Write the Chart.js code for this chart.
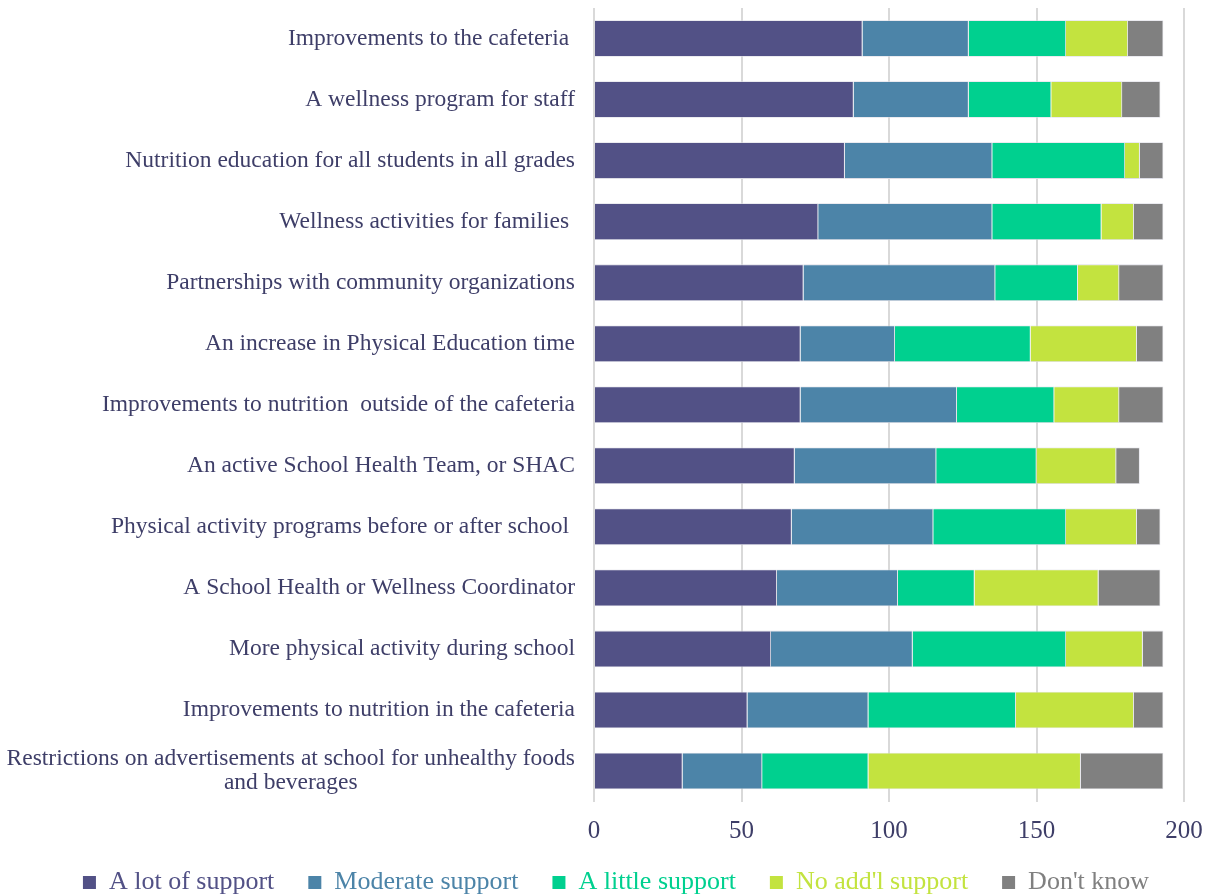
<!DOCTYPE html>
<html>
<head>
<meta charset="utf-8">
<script src="https://cdn.jsdelivr.net/npm/chart.js@4/dist/chart.umd.min.js"></script>
<style>
  html, body { margin: 0; padding: 0; background: #fff; }
  #wrap { width: 1212px; height: 894px; }
</style>
</head>
<body>
<div id="wrap"><canvas id="support-chart"></canvas></div>
<script>
var categories = [
    "Improvements to the cafeteria ",
    "A wellness program for staff",
    "Nutrition education for all students in all grades",
    "Wellness activities for families ",
    "Partnerships with community organizations",
    "An increase in Physical Education time",
    "Improvements to nutrition  outside of the cafeteria",
    "An active School Health Team, or SHAC",
    "Physical activity programs before or after school ",
    "A School Health or Wellness Coordinator",
    "More physical activity during school",
    "Improvements to nutrition in the cafeteria",
    ["Restrictions on advertisements at school for unhealthy foods", "and beverages" + " ".repeat(37)]
];
var seriesNames = ["A lot of support", "Moderate support", "A little support", "No add'l support", "Don't know"];
var aLot      = [91, 88, 85, 76, 71, 70, 70, 68, 67, 62, 60, 52, 30];
var moderate  = [36, 39, 50, 59, 65, 32, 53, 48, 48, 41, 48, 41, 27];
var aLittle   = [33, 28, 45, 37, 28, 46, 33, 34, 45, 26, 52, 50, 36];
var noAdd     = [21, 24,  5, 11, 14, 36, 22, 27, 24, 42, 26, 40, 72];
var dontKnow  = [12, 13,  8, 10, 15,  9, 15,  8,  8, 21,  7, 10, 28];
var xTicks = [0, 50, 100, 150, 200];

var colors = ["#525186", "#4C84A8", "#00D08F", "#C3E33F", "#808080"];
var textColor = "#3e3e68";
var serif = "'Liberation Serif', 'DejaVu Serif', serif";

var values = [aLot, moderate, aLittle, noAdd, dontKnow];
var datasets = [];
for (var i = 0; i < seriesNames.length; i++) {
    datasets.push({
        label: seriesNames[i],
        data: values[i],
        backgroundColor: colors[i],
        borderColor: "#dcdce4",
        borderWidth: 0.8,
        barPercentage: 0.6,
        categoryPercentage: 1.0
    });
}

// nudge the legend a little to the right, like the original
var legendShift = {
    id: "legendShift",
    afterLayout: function (chart) {
        if (chart.legend) {
            chart.legend.left += 10;
            chart.legend.right += 10;
        }
    }
};

var ctx = document.getElementById("support-chart");
var chart = new Chart(ctx, {
    type: "bar",
    data: { labels: categories, datasets: datasets },
    plugins: [legendShift],
    options: {
        indexAxis: "y",
        responsive: true,
        maintainAspectRatio: false,
        animation: false,
        layout: { padding: { top: 8, right: 0, left: 0, bottom: -11.5 } },
        scales: {
            x: {
                stacked: true,
                min: 0,
                max: 200,
                afterBuildTicks: function (scale) {
                    scale.ticks = xTicks.map(function (v) { return { value: v }; });
                },
                afterFit: function (scale) {
                    scale.paddingLeft = 0;
                    scale.paddingRight = 28;
                },
                grid: { color: "#d9d9d9", lineWidth: 2, drawTicks: false },
                border: { display: false },
                ticks: {
                    color: textColor,
                    padding: 15,
                    font: { family: serif, size: 25 }
                }
            },
            y: {
                stacked: true,
                grid: { display: false, drawTicks: false },
                border: { display: false },
                afterFit: function (scale) {
                    scale.width = 594;
                    scale.paddingTop = 0;
                    scale.paddingBottom = 0;
                },
                ticks: {
                    color: textColor,
                    padding: 19,
                    autoSkip: false,
                    font: { family: serif, size: 23.5, lineHeight: 1.0 }
                }
            }
        },
        plugins: {
            tooltip: { enabled: false },
            legend: {
                position: "bottom",
                labels: {
                    boxWidth: 13,
                    boxHeight: 13,
                    padding: 8,
                    font: { family: serif, size: 26 },
                    generateLabels: function (chart) {
                        return chart.data.datasets.map(function (ds, i) {
                            return {
                                text: ds.label + (i < chart.data.datasets.length - 1 ? "    " : ""),
                                fillStyle: ds.backgroundColor,
                                strokeStyle: ds.backgroundColor,
                                lineWidth: 0,
                                fontColor: ds.backgroundColor,
                                hidden: false,
                                datasetIndex: i
                            };
                        });
                    }
                }
            }
        }
    }
});
</script>
</body>
</html>
